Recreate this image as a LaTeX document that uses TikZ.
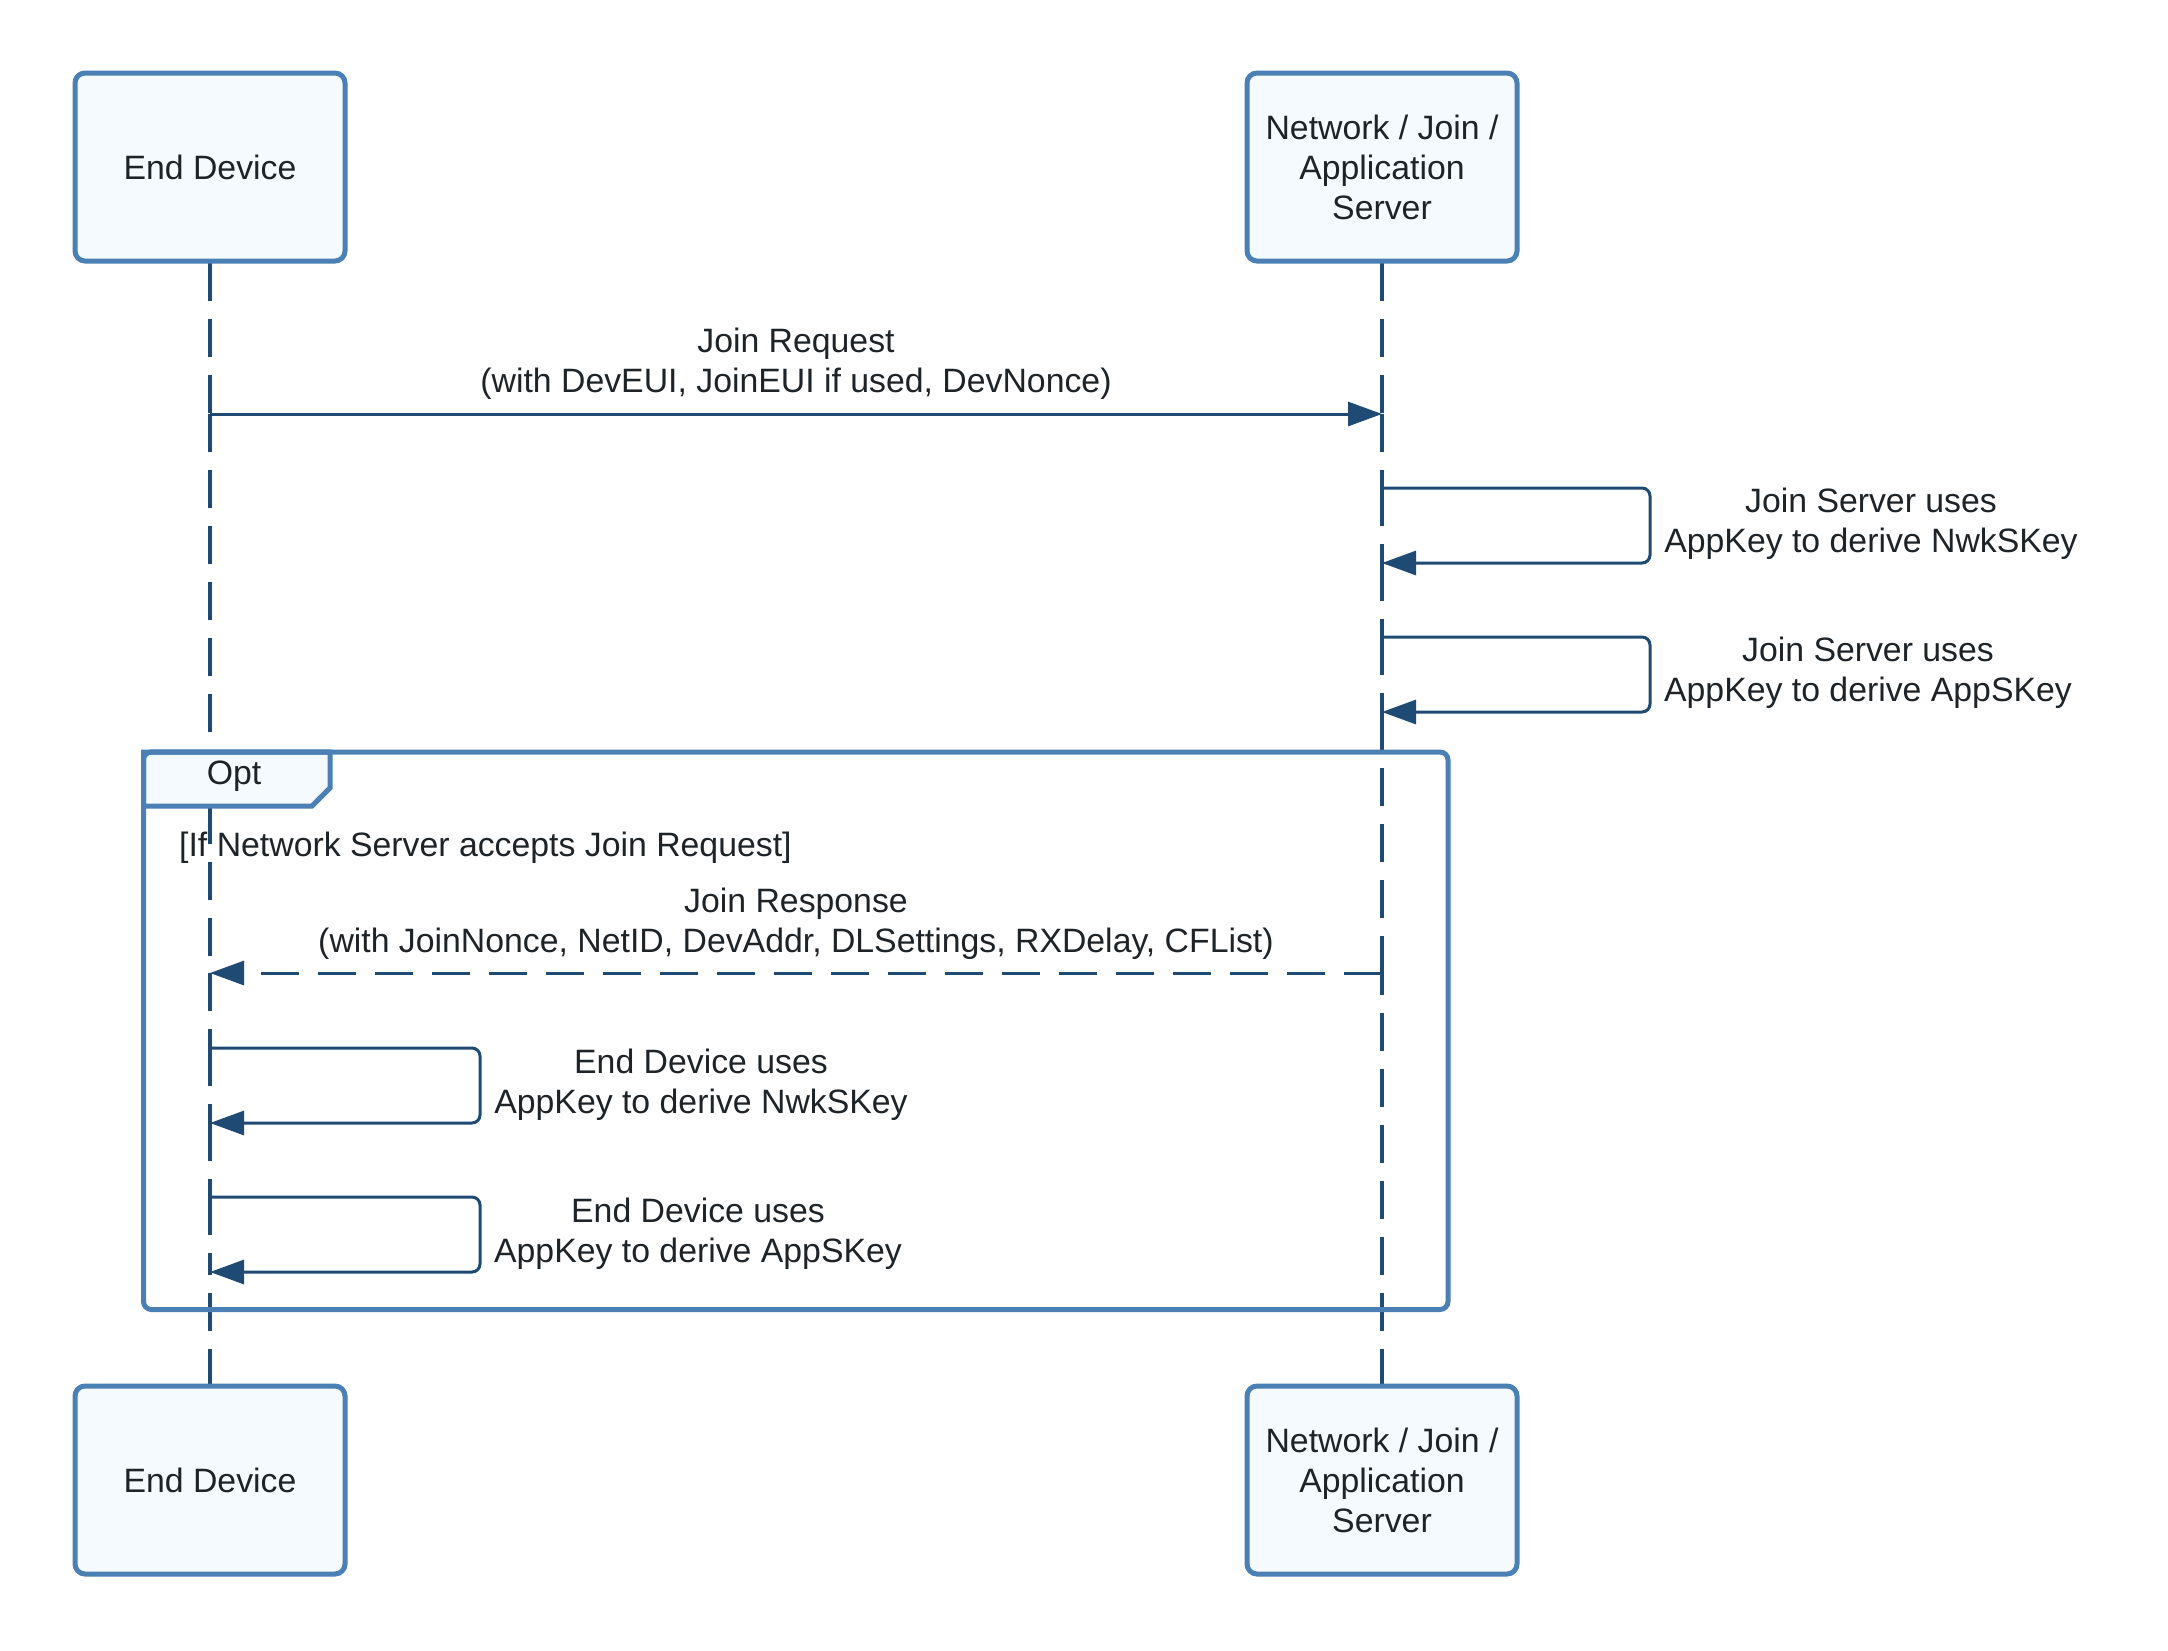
\documentclass[tikz,border=0pt]{standalone}
\usepackage{fontspec}
\setmainfont{Liberation Sans}
\usetikzlibrary{arrows.meta}
\definecolor{boxborder}{HTML}{4A80B4}
\definecolor{boxfill}{HTML}{F5FAFF}
\definecolor{navy}{HTML}{1F4A73}
\definecolor{txt}{HTML}{1E2328}
\begin{document}
\begin{tikzpicture}[x=1pt,y=-1pt, font=\fontsize{33.8}{40}\selectfont, text=txt,
 actor/.style={draw=boxborder, fill=boxfill, line width=5pt, rounded corners=10pt, minimum width=270pt, minimum height=188pt, align=center, inner sep=0pt},
 life/.style={navy, line width=3.5pt, dash pattern=on 38pt off 18pt},
 msg/.style={navy, line width=3pt, -{Triangle[length=34pt,width=24pt]}},
 rmsg/.style={msg, dash pattern=on 38pt off 19pt},
 loopmsg/.style={msg, rounded corners=8pt},
 lbl/.style={align=center, inner sep=0pt, yshift=-3pt},
]
\useasboundingbox (0,0) rectangle (2168,1650);

% named points on the lifelines
\coordinate (edTop) at (210,263);
\coordinate (nsTop) at (1382,263);
\coordinate (edReq) at (210,414);
\coordinate (nsReq) at (1382,414);
\coordinate (n2a) at (1382,488);
\coordinate (n2b) at (1382,563);
\coordinate (n3a) at (1382,637);
\coordinate (n3b) at (1382,712);
\coordinate (nsResp) at (1382,973);
\coordinate (edResp) at (210,973);
\coordinate (e4a) at (210,1048);
\coordinate (e4b) at (210,1123);
\coordinate (e5a) at (210,1197);
\coordinate (e5b) at (210,1272);
\coordinate (edBot) at (210,1387);
\coordinate (nsBot) at (1382,1387);

% lifelines
\draw[life] (edTop) -- (edReq);
\draw[life] (edReq) -- (edResp);
\draw[life] (edResp) -- (e4a);
\draw[life] (e4a) -- (e4b);
\draw[life] (e4b) -- (e5a);
\draw[life] (e5a) -- (e5b);
\draw[life] (edBot) -- (e5b);
\draw[life] (nsTop) -- (nsReq);
\draw[life] (nsReq) -- (n2a);
\draw[life] (n2a) -- (n2b);
\draw[life] (n2b) -- (n3a);
\draw[life] (n3a) -- (n3b);
\draw[life] (n3b) -- (nsResp);
\draw[life] (nsBot) -- (nsResp);

% opt frame
\draw[boxborder, line width=5pt, rounded corners=8pt] (143.5,752) rectangle (1448,1309.5);
\draw[boxborder, fill=boxfill, line width=5pt] (143.5,752) -- (330,752) -- (330,788) -- (312,806) -- (143.5,806) -- cycle;
\draw[boxborder, line width=5pt, rounded corners=8pt] (143.5,806) -- (143.5,752) -- (330,752);
\node[lbl] (opt) at (234,773) {Opt};
\node[lbl, anchor=west] (cond) at (179,845) {[If Network Server accepts Join Request]};

% messages
\draw[msg] (edReq) -- (nsReq);
\node[lbl] (reqlbl) at (796,361) {Join Request\\(with DevEUI, JoinEUI if used, DevNonce)};

\draw[loopmsg] (n2a) -- (1650,488) -- (1650,563) -- (n2b);
\node[lbl] (l2) at (1871,521) {Join Server uses\\AppKey to derive NwkSKey};

\draw[loopmsg] (n3a) -- (1650,637) -- (1650,712) -- (n3b);
\node[lbl] (l3) at (1868,670) {Join Server uses\\AppKey to derive AppSKey};

\draw[rmsg] (nsResp) -- (edResp);
\node[lbl] (resplbl) at (796,921) {Join Response\\(with JoinNonce, NetID, DevAddr, DLSettings, RXDelay, CFList)};

\draw[loopmsg] (e4a) -- (480,1048) -- (480,1123) -- (e4b);
\node[lbl] (l4) at (701,1082) {End Device uses\\AppKey to derive NwkSKey};

\draw[loopmsg] (e5a) -- (480,1197) -- (480,1272) -- (e5b);
\node[lbl] (l5) at (698,1231) {End Device uses\\AppKey to derive AppSKey};

% actors
\node[actor] (ed) at (210,167) {End Device};
\node[actor] (ns) at (1382,167) {Network / Join /\\Application\\Server};
\node[actor] (ed2) at (210,1480) {End Device};
\node[actor] (ns2) at (1382,1480) {Network / Join /\\Application\\Server};
\end{tikzpicture}
\end{document}
